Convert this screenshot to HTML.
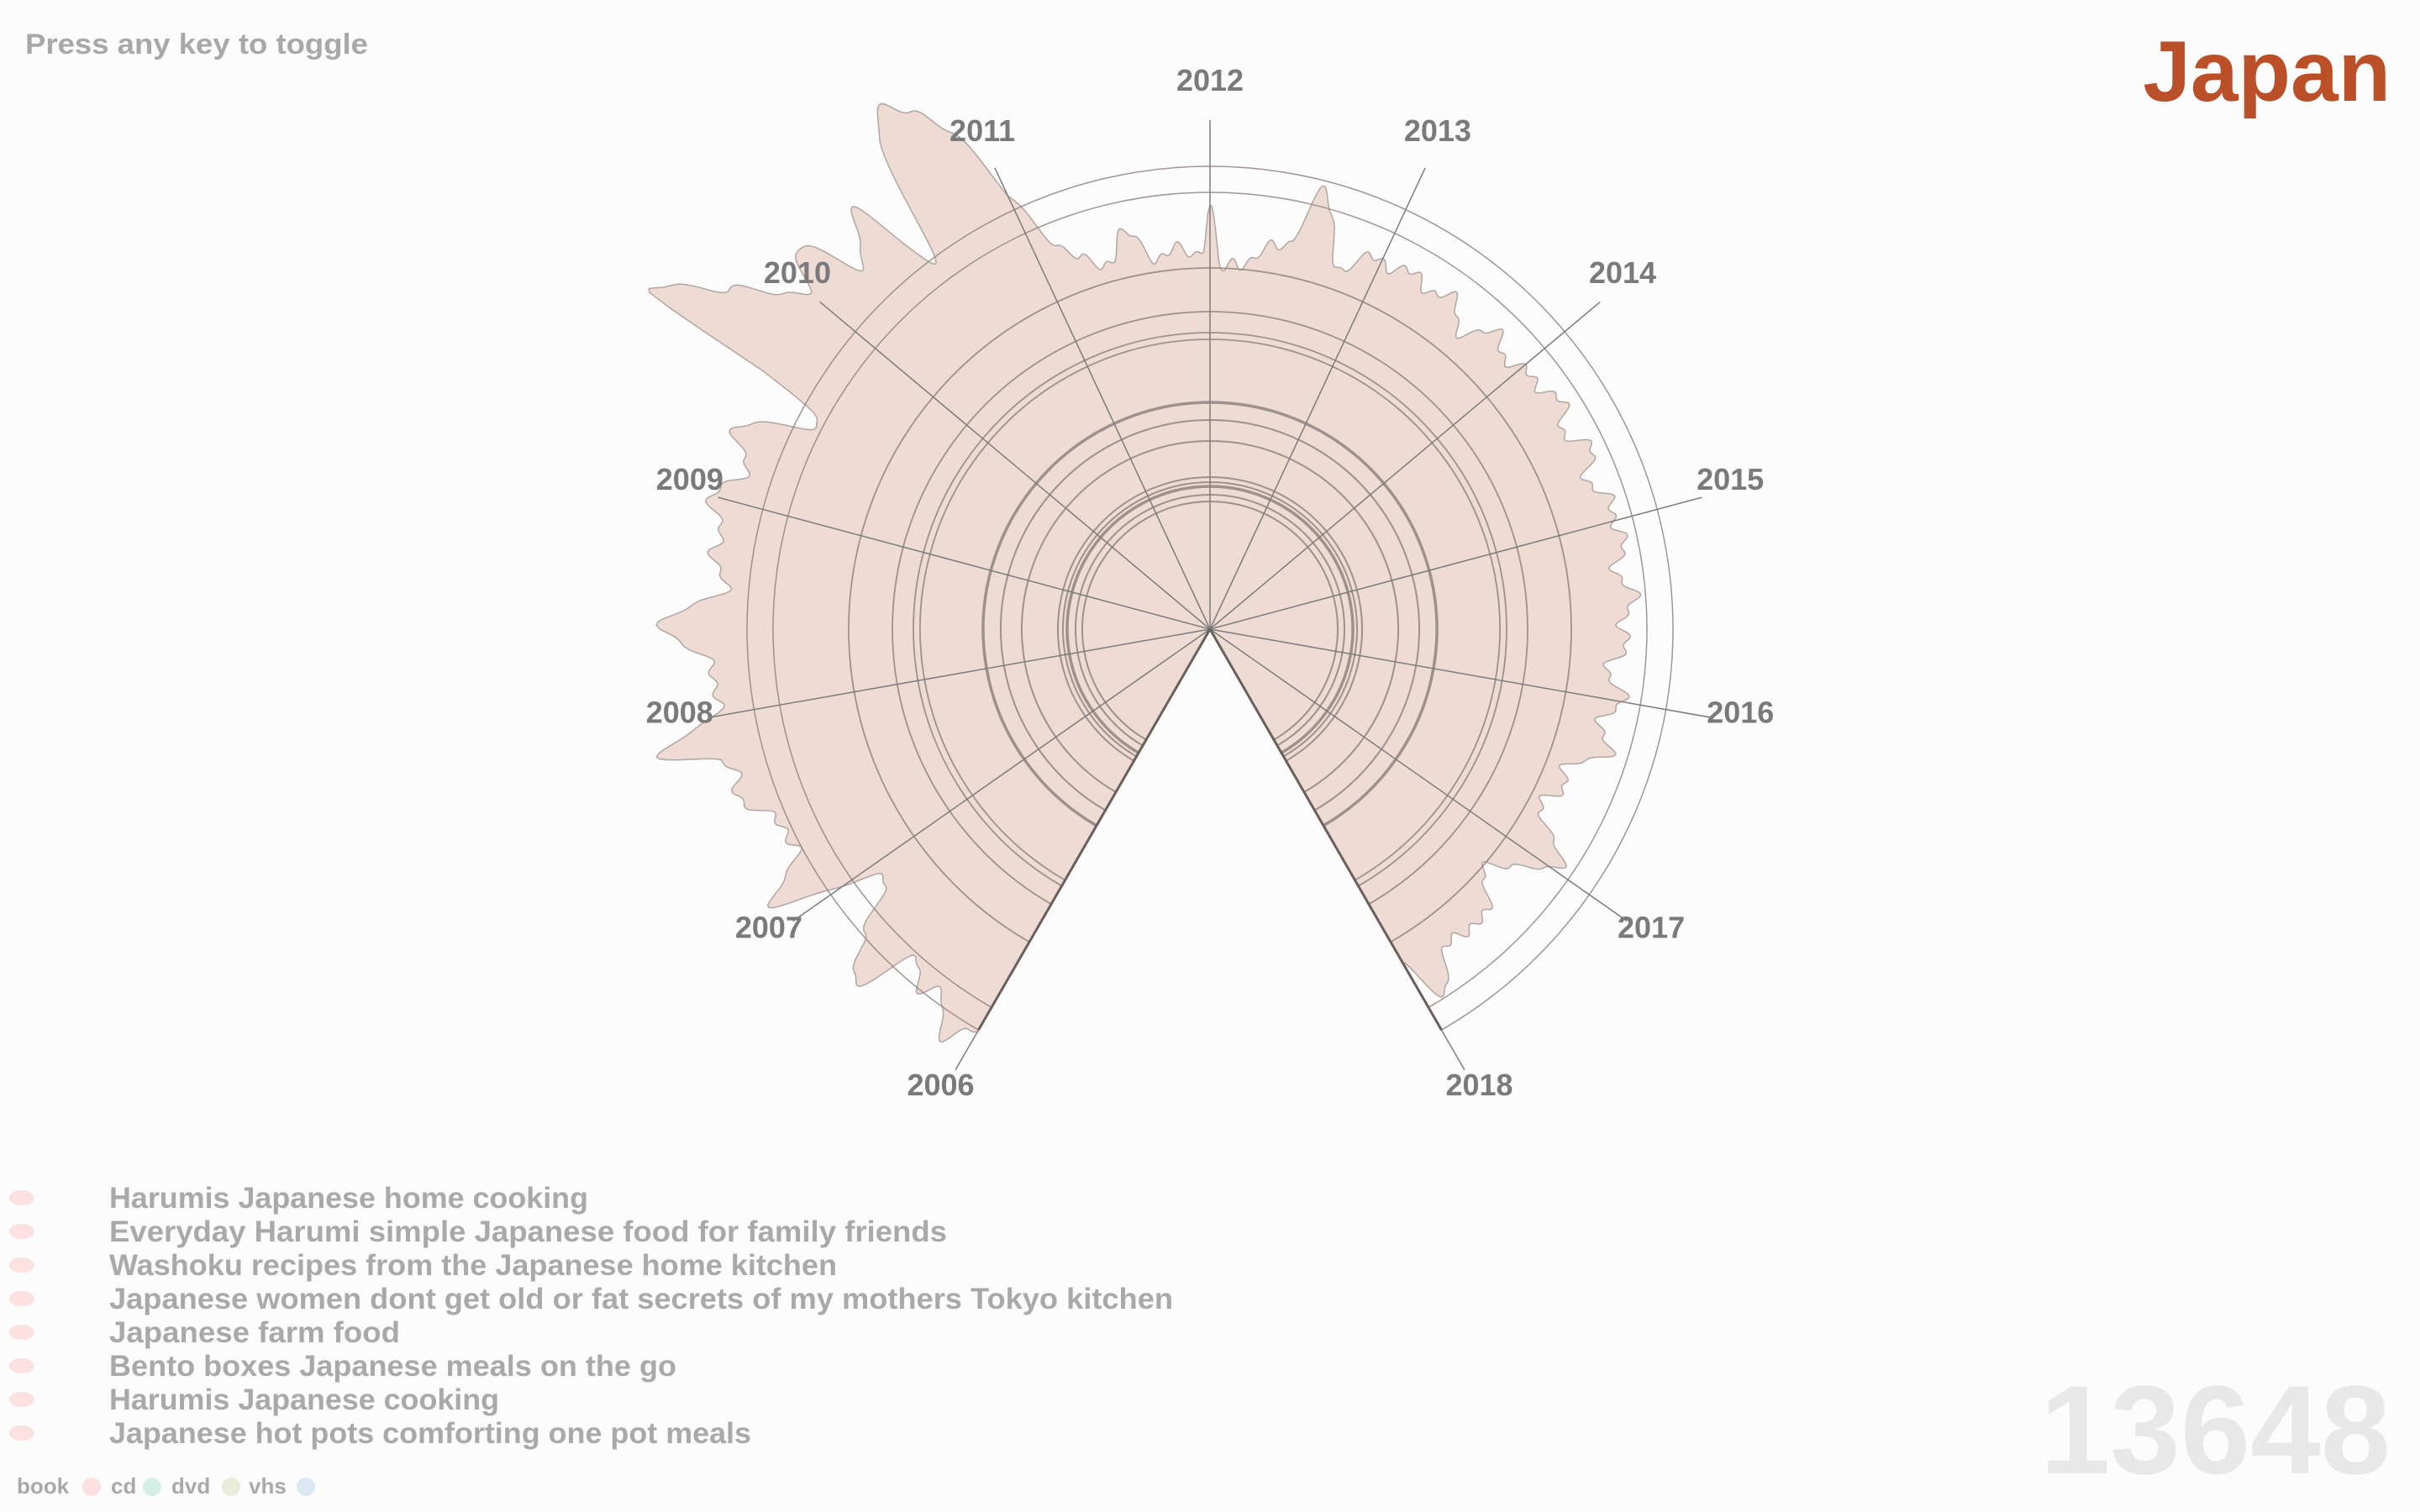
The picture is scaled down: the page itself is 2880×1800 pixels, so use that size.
<!DOCTYPE html>
<html><head><meta charset="utf-8"><style>
html,body{margin:0;padding:0;background:#fcfcfc;width:2880px;height:1800px;overflow:hidden}
svg{display:block}
text{font-family:"Liberation Sans",sans-serif;font-weight:bold}
</style></head><body>
<svg id="s" width="2880" height="1800" viewBox="0 0 2880 1800" xmlns="http://www.w3.org/2000/svg">
<g id="chart"></g>
<text x="30" y="64" font-size="34" fill="#a8a8a8" textLength="408" lengthAdjust="spacingAndGlyphs">Press any key to toggle</text>
<text x="2845" y="120" font-size="102" fill="#bb5028" text-anchor="end">Japan</text>
<text x="2845" y="1754" font-size="150" fill="#e8e8e8" text-anchor="end">13648</text>
<g fill="#a9a9a9" font-size="35">
<text x="130" y="1438" textLength="570" lengthAdjust="spacingAndGlyphs">Harumis Japanese home cooking</text>
<text x="130" y="1478" textLength="997" lengthAdjust="spacingAndGlyphs">Everyday Harumi simple Japanese food for family friends</text>
<text x="130" y="1518" textLength="866" lengthAdjust="spacingAndGlyphs">Washoku recipes from the Japanese home kitchen</text>
<text x="130" y="1558" textLength="1266" lengthAdjust="spacingAndGlyphs">Japanese women dont get old or fat secrets of my mothers Tokyo kitchen</text>
<text x="130" y="1598" textLength="346" lengthAdjust="spacingAndGlyphs">Japanese farm food</text>
<text x="130" y="1638" textLength="675" lengthAdjust="spacingAndGlyphs">Bento boxes Japanese meals on the go</text>
<text x="130" y="1678" textLength="464" lengthAdjust="spacingAndGlyphs">Harumis Japanese cooking</text>
<text x="130" y="1718" textLength="764" lengthAdjust="spacingAndGlyphs">Japanese hot pots comforting one pot meals</text>
</g>
<g fill="#fde0e0">
<ellipse cx="26" cy="1426" rx="15" ry="9"/><ellipse cx="26" cy="1466" rx="15" ry="9"/>
<ellipse cx="26" cy="1506" rx="15" ry="9"/><ellipse cx="26" cy="1546" rx="15" ry="9"/>
<ellipse cx="26" cy="1586" rx="15" ry="9"/><ellipse cx="26" cy="1626" rx="15" ry="9"/>
<ellipse cx="26" cy="1666" rx="15" ry="9"/><ellipse cx="26" cy="1706" rx="15" ry="9"/>
</g>
<g font-size="26" fill="#a9a9a9">
<text x="20" y="1778">book</text><ellipse cx="109" cy="1770" rx="11" ry="11" fill="#fde0e0"/>
<text x="132" y="1778">cd</text><ellipse cx="181" cy="1770" rx="11" ry="11" fill="#d5efe6"/>
<text x="204" y="1778">dvd</text><ellipse cx="275" cy="1770" rx="11" ry="11" fill="#e9ecd8"/>
<text x="296" y="1778">vhs</text><ellipse cx="364" cy="1770" rx="11" ry="11" fill="#dce9f5"/>
</g>
</svg>
<script>
(function(){
var cx=1440,cy=749,S=1.837,NS="http://www.w3.org/2000/svg";
var g=document.getElementById('chart');
function el(n,a){var e=document.createElementNS(NS,n);for(var k in a)e.setAttribute(k,a[k]);g.appendChild(e);return e;}
function P(a,r){var t=a*Math.PI/180;return [cx+r*Math.sin(t),cy-r*Math.cos(t)];}
var cp=[[-150,300],[-147,318],[-144,290],[-141,305],[-138,280],[-135,330],[-132,300],[-128,270],[-125,285],[-122,336],[-118,300],[-114,310],[-110,320],[-105,330],[-103,360],[-100,330],[-95,320],[-90,352],[-85,318],[-80,325],[-75,330],[-70,320],[-66,330],[-62,282],[-60,330],[-58.9,427],[-55,380],[-50,345],[-47,360],[-44,330],[-40,350],[-37,300],[-34,380],[-31,396],[-28,370],[-25,310],[-20,255],[-15,250],[-12,260],[-8,245],[-4,245],[-1,250],[0,275],[1.5,232],[4,240],[8,245],[12,260],[14,292],[17,270],[20,250],[25,265],[30,262],[35,265],[40,255],[45,265],[50,260],[55,270],[60,265],[65,270],[70,265],[75,275],[80,268],[85,272],[90,270],[95,262],[100,268],[105,262],[108,268],[112,245],[115,250],[120,245],[124,280],[127,250],[132,240],[138,262],[142,250],[147,280],[150,250]];
function R(a){
 for(var i=0;i<cp.length-1;i++){if(a<=cp[i+1][0])break;}
 var p0=cp[Math.max(i-1,0)],p1=cp[i],p2=cp[i+1],p3=cp[Math.min(i+2,cp.length-1)];
 var t=(a-p1[0])/(p2[0]-p1[0]);t=Math.max(0,Math.min(1,t));
 var t2=t*t,t3=t2*t;
 var r=0.5*((2*p1[1])+(-p0[1]+p2[1])*t+(2*p0[1]-5*p1[1]+4*p2[1]-p3[1])*t2+(-p0[1]+3*p1[1]-3*p2[1]+p3[1])*t3);
 r+=5*Math.sin(a*0.9)+3*Math.sin(a*2.3);
 return r*S;
}
var d="M"+cx+","+cy;
for(var a=-150;a<=150;a+=0.25){var p=P(a,R(a));d+="L"+p[0].toFixed(1)+","+p[1].toFixed(1);}
d+="Z";
el('path',{d:d,fill:"#eedbd3",stroke:"#b0a6a2","stroke-width":1.5});
var circ=[[551,1.5],[520,1.5],[430,1.8],[378,1.8],[353,1.8],[345,1.8],[270,3.5],[249,2],[224,2],[181,2],[175,2],[170,3.5],[160,2],[152,2]];
circ.forEach(function(c){
 var a=P(-150,c[0]),b=P(150,c[0]);
 el('path',{d:"M"+a[0]+","+a[1]+"A"+c[0]+","+c[0]+" 0 1 1 "+b[0]+","+b[1],fill:"none",stroke:"#8f8480","stroke-width":c[1],"stroke-opacity":0.85});
});
for(var k=0;k<13;k++){
 var ang=-150+25*k,e=P(ang,606),l=P(ang,641);
 el('line',{x1:cx,y1:cy,x2:e[0],y2:e[1],stroke:"#7c7c7c","stroke-width":1.5});
 var t=el('text',{x:l[0],y:l[1],"font-size":36,fill:"#7a7a7a","text-anchor":"middle"});
 t.textContent=String(2006+k);
}
var e1=P(-150,551),e2=P(150,551);
el('line',{x1:cx,y1:cy,x2:e1[0],y2:e1[1],stroke:"#6a5f5c","stroke-width":3});
el('line',{x1:cx,y1:cy,x2:e2[0],y2:e2[1],stroke:"#6a5f5c","stroke-width":3});
})();
</script>
</body></html>
